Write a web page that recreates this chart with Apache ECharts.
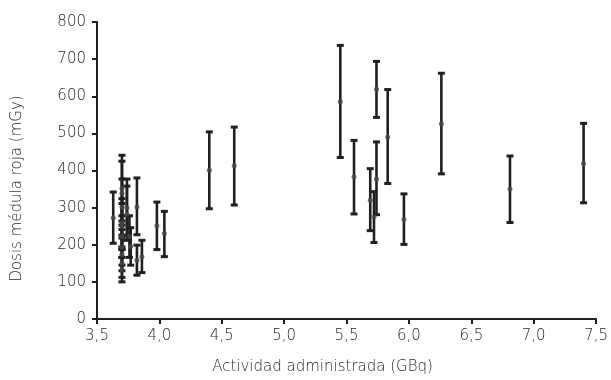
<!DOCTYPE html>
<html>
<head>
<meta charset="utf-8">
<script src="https://cdn.jsdelivr.net/npm/echarts@6/dist/echarts.min.js"></script>
<style>
  html, body { margin: 0; padding: 0; background: #fff; }
  #chart { width: 611px; height: 380px; }
</style>
</head>
<body>
<div id="chart"></div>
<script>
// Actividad administrada (GBq), dosis (mGy) y extremos de la barra de error
const actividad = [3.63, 3.70, 3.70, 3.70, 3.70, 3.70, 3.70, 3.70, 3.70, 3.70, 3.70,
  3.74, 3.74, 3.76, 3.77, 3.82, 3.82, 3.86, 3.98, 4.04, 4.40, 4.60,
  5.45, 5.56, 5.69, 5.72, 5.74, 5.74, 5.83, 5.96, 6.26, 6.81, 7.40];
const dosis = [272, 352, 338, 302, 259, 249, 222, 193, 174, 150, 133,
  300, 282, 222, 195, 302, 158, 168, 251, 230, 401, 413,
  585, 383, 320, 275, 619, 377, 490, 268, 526, 350, 419];
const errorInf = [204, 264, 253, 226, 194, 187, 166, 145, 130, 112, 100,
  225, 212, 166, 145, 227, 118, 125, 187, 168, 297, 307,
  435, 283, 238, 206, 543, 281, 365, 201, 391, 260, 313];
const errorSup = [342, 441, 425, 377, 324, 311, 278, 241, 218, 188, 166,
  377, 358, 278, 246, 380, 199, 212, 315, 290, 504, 517,
  737, 481, 405, 343, 694, 477, 618, 337, 662, 439, 527];

const xTicks = { min: 3.5, max: 7.5, interval: 0.5 };
const yTicks = { min: 0, max: 800, interval: 100 };

const ink = "#231f20";
const textColor = "#1e1e1e";
const font = "DejaVu Sans";

const barras = actividad.map((x, i) => [x, errorInf[i], errorSup[i]]);
const puntos = actividad.map((x, i) => [x, dosis[i]]);

const chart = echarts.init(document.getElementById("chart"), null, { renderer: "canvas" });

const labelStyle = { color: textColor, fontFamily: font, fontSize: 15, fontWeight: 200 };

chart.setOption({
  animation: false,
  grid: { left: 97, right: 12, top: 22, bottom: 60 },
  xAxis: {
    type: "value",
    ...xTicks,
    name: "Actividad administrada (GBq)",
    nameLocation: "middle",
    nameGap: 41,
    nameTextStyle: { ...labelStyle, padding: [0, 48, 0, 0] },
    axisLine: { show: true, lineStyle: { color: ink, width: 2 } },
    axisTick: { show: true, length: 5, lineStyle: { color: ink, width: 2 } },
    axisLabel: { ...labelStyle, margin: 10, formatter: (v) => v.toFixed(1).replace(".", ",") },
    splitLine: { show: false }
  },
  yAxis: {
    type: "value",
    ...yTicks,
    name: "Dosis médula roja (mGy)",
    nameLocation: "middle",
    nameGap: 72,
    nameTextStyle: { ...labelStyle, padding: [0, 36, 0, 0] },
    axisLine: { show: true, lineStyle: { color: ink, width: 2 } },
    axisTick: { show: true, length: 5, lineStyle: { color: ink, width: 2 } },
    axisLabel: { ...labelStyle, margin: 11 },
    splitLine: { show: false }
  },
  series: [
    {
      type: "custom",
      data: barras,
      renderItem: (params, api) => {
        const lo = api.coord([api.value(0), api.value(1)]);
        const hi = api.coord([api.value(0), api.value(2)]);
        const w = 3.5;
        const style = { fill: ink };
        return {
          type: "group",
          children: [
            { type: "rect", shape: { x: lo[0] - 1.3, y: hi[1], width: 2.6, height: lo[1] - hi[1] }, style },
            { type: "rect", shape: { x: hi[0] - w, y: hi[1] - 1.5, width: 2 * w, height: 3 }, style },
            { type: "rect", shape: { x: lo[0] - w, y: lo[1] - 1.5, width: 2 * w, height: 3 }, style }
          ]
        };
      },
      z: 2
    },
    {
      type: "scatter",
      data: puntos,
      symbol: "circle",
      symbolSize: 5,
      itemStyle: { color: "#4a4a4a" },
      z: 3
    }
  ]
});
</script>
</body>
</html>
